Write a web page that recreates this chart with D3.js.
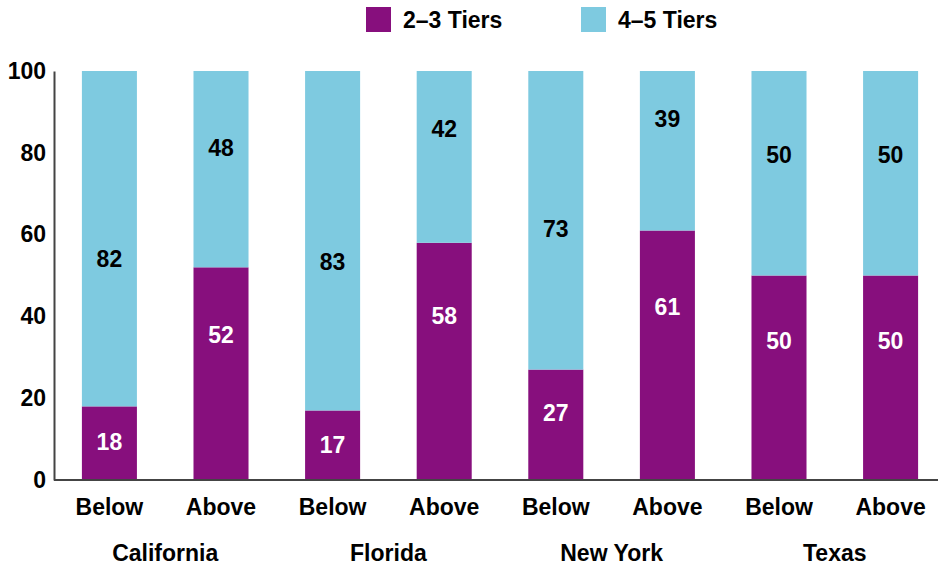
<!DOCTYPE html>
<html>
<head>
<meta charset="utf-8">
<script src="https://cdn.jsdelivr.net/npm/d3@7"></script>
<style>
  body { margin: 0; background: #fff; }
  text { font-family: "Liberation Sans", Arial, sans-serif; font-weight: bold; }
</style>
</head>
<body>
<div id="chart"></div>
<script>
var states = ["California", "Florida", "New York", "Texas"];
var positions = ["Below", "Above"];
var lowTiers = [18, 52, 17, 58, 27, 61, 50, 50];   // 2–3 Tiers
var highTiers = [82, 48, 83, 42, 73, 39, 50, 50];  // 4–5 Tiers
var seriesNames = ["2–3 Tiers", "4–5 Tiers"];
var yTicks = [0, 20, 40, 60, 80, 100];

var colors = {"2–3 Tiers": "#870f7d", "4–5 Tiers": "#7ecae0"};

var width = 938, height = 565;
var fs = "23px";
var svg = d3.select("#chart").append("svg").attr("width", width).attr("height", height);

var cats = [];
states.forEach(function(s) {
  positions.forEach(function(p) { cats.push(s + "|" + p); });
});

var x = d3.scaleBand().domain(cats).range([54, 946]).paddingInner(0.507).paddingOuter(0.25);
var y = d3.scaleLinear().domain([0, 100]).range([480, 71]);

var rows = cats.map(function(c, i) {
  return {key: c, low: lowTiers[i], high: highTiers[i]};
});

// bars
svg.selectAll("rect.low").data(rows).enter().append("rect")
  .attr("x", function(d) { return x(d.key); })
  .attr("width", x.bandwidth())
  .attr("y", function(d) { return y(d.low); })
  .attr("height", function(d) { return y(0) - y(d.low); })
  .style("fill", colors["2–3 Tiers"]);

svg.selectAll("rect.high").data(rows).enter().append("rect")
  .attr("x", function(d) { return x(d.key); })
  .attr("width", x.bandwidth())
  .attr("y", function(d) { return y(d.low + d.high); })
  .attr("height", function(d) { return y(d.low) - y(d.low + d.high); })
  .style("fill", colors["4–5 Tiers"]);

// value labels (placement follows the original chart)
svg.selectAll("text.lowlab").data(rows).enter().append("text")
  .attr("x", function(d) { return x(d.key) + x.bandwidth() / 2; })
  .attr("y", function(d) { return y(0.766 * d.low - 4.4); })
  .attr("dy", "0.35em")
  .attr("text-anchor", "middle")
  .style("font-size", fs)
  .style("fill", "#fff")
  .text(function(d) { return d.low; });

svg.selectAll("text.highlab").data(rows).enter().append("text")
  .attr("x", function(d) { return x(d.key) + x.bandwidth() / 2; })
  .attr("y", function(d) { return y(100 - (0.795 * d.high - 19.3)); })
  .attr("dy", "0.35em")
  .attr("text-anchor", "middle")
  .style("font-size", fs)
  .style("fill", "#000")
  .text(function(d) { return d.high; });

// y axis
var yAxis = svg.append("g").attr("transform", "translate(54,0)")
  .call(d3.axisLeft(y).tickValues(yTicks).tickSize(0).tickPadding(8));
yAxis.select(".domain").attr("stroke", "#444").attr("stroke-width", 2);
yAxis.selectAll("text").style("font-size", fs).style("fill", "#000")
  .style("font-family", "'Liberation Sans', Arial, sans-serif");

// x axis line
svg.append("line").attr("x1", 54).attr("x2", width).attr("y1", y(0)).attr("y2", y(0))
  .attr("stroke", "#444").attr("stroke-width", 2);

// category labels
svg.selectAll("text.pos").data(cats).enter().append("text")
  .attr("x", function(d) { return x(d) + x.bandwidth() / 2; })
  .attr("y", 507).attr("dy", "0.35em")
  .attr("text-anchor", "middle")
  .style("font-size", fs)
  .text(function(d) { return d.split("|")[1]; });

svg.selectAll("text.state").data(states).enter().append("text")
  .attr("x", function(s) {
    var a = x(s + "|Below"), b = x(s + "|Above") + x.bandwidth();
    return (a + b) / 2;
  })
  .attr("y", 553).attr("dy", "0.35em")
  .attr("text-anchor", "middle")
  .style("font-size", fs)
  .text(function(s) { return s; });

// legend
var legendX = [366, 581];
var legend = svg.selectAll("g.legend").data(seriesNames).enter().append("g")
  .attr("transform", function(d, i) { return "translate(" + legendX[i] + ",7)"; });
legend.append("rect").attr("width", 25).attr("height", 25)
  .style("fill", function(d) { return colors[d]; });
legend.append("text").attr("x", 37).attr("y", 12.5).attr("dy", "0.35em")
  .style("font-size", fs)
  .text(function(d) { return d; });
</script>
</body>
</html>
